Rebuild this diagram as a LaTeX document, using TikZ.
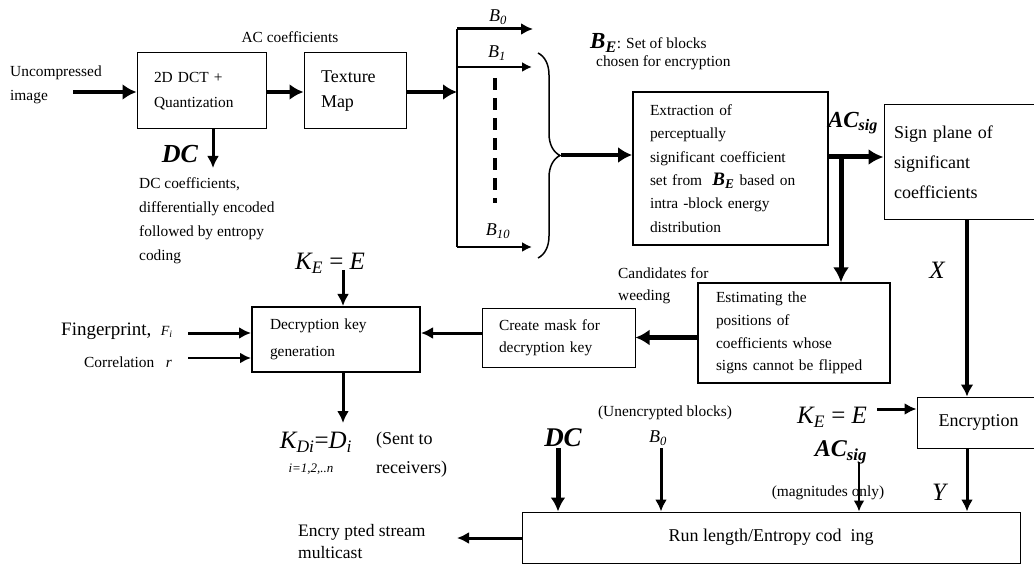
\documentclass[tikz,border=0pt]{standalone}
\usepackage{fontspec}
\setmainfont{Liberation Serif}
\usetikzlibrary{arrows.meta,decorations.pathreplacing}

\newcommand{\fs}[2]{\fontsize{#1}{#2}\selectfont}
\newcommand{\bE}{{\fontsize{19}{23}\selectfont\bfseries\itshape B\textsubscript{E}}}
\newcommand{\acsig}{\bfseries\itshape AC\textsubscript{sig}}
\newcommand{\keqe}{{\itshape K\textsubscript{E}}\ =\ {\itshape E}}

\tikzset{
	blk/.style={draw, line width=1pt, align=left, inner ysep=0pt},
	lbl/.style={inner sep=0pt, align=left},
	fat/.style={line width=4.5pt, -{Latex[length=14pt,width=16pt]}},
	mid/.style={line width=3pt, -{Latex[length=12pt,width=12pt]}},
	slim/.style={line width=2pt, -{Latex[length=10pt,width=10pt]}},
}

\begin{document}
\begin{tikzpicture}[x=1pt, y=-1pt, font=\fs{15.4}{19}]
				\useasboundingbox (0,0) rectangle (1034,564);
				%-- boxes
				\node[blk, minimum height=76pt, text width=95pt, inner xsep=17pt, font=\fs{15.4}{25}] (dct) at (201.5,91) {2D DCT +\\Quantization};
				\node[blk, minimum height=76pt, text width=68pt, inner xsep=17pt, font=\fs{18}{25}] (tex) at (355,91) {Texture\\Map};
				\node[blk, line width=1.8pt, minimum height=153pt, text width=161pt, inner xsep=17pt, font=\fs{15.4}{23.3}] (ext) at (730.5,168.5) {Extraction of\\perceptually\\significant coefficient\\set from \ \bE{} based on\\intra -block energy\\distribution};
				\node[blk, minimum height=115pt, text width=140pt, inner xsep=10pt, font=\fs{18}{30}] (sign) at (964,162.5) {Sign plane of\\significant\\coefficients};
				\node[blk, line width=1.3pt, minimum height=100pt, text width=156pt, inner xsep=18pt, font=\fs{15.4}{22.7}] (est) at (794,333) {Estimating the\\positions of\\coefficients whose\\signs cannot be flipped};
				\node[blk, minimum height=59pt, text width=119pt, inner xsep=17pt, font=\fs{15.4}{22}] (mask) at (558.5,337.5) {Create mask for\\decryption key};
				\node[blk, line width=2pt, minimum height=65pt, text width=132pt, inner xsep=18pt, font=\fs{15.4}{27}] (dec) at (336,339.5) {Decryption key\\generation};
				\node[blk, align=center, minimum height=51pt, minimum width=123pt, font=\fs{18}{22}] (enc) at (978.5,422.5) {Encryption};
				\node[blk, align=center, minimum height=51pt, minimum width=498pt, font=\fs{18}{22}] (run) at (771,537.5) {Run length/Entropy cod\ \ ing};
				%-- labels
				\node[lbl, anchor=west, font=\fs{15.4}{24}] (unc) at (10,85) {Uncompressed\\image};
				\node[lbl] (acc) at (290,37) {AC coefficients};
				\node[lbl, font=\fs{26}{30}\bfseries\itshape] (dcl) at (180,154) {DC};
				\node[lbl, anchor=west, font=\fs{15.4}{24}] (dcc) at (139,221) {DC coefficients,\\differentially encoded\\followed by entropy\\coding};
				\node[lbl, font=\fs{18}{20}\itshape] (bz) at (498,17) {B\textsubscript{0}};
				\node[lbl, font=\fs{18}{20}\itshape] (bo) at (497,53) {B\textsubscript{1}};
				\node[lbl, font=\fs{18}{20}\itshape] (bt) at (498,231) {B\textsubscript{10}};
				\node[lbl, anchor=west] (be1) at (590,43) {{\fs{23}{26}\bfseries\itshape B\textsubscript{E}}: Set of blocks};
				\node[lbl, anchor=west] (be2) at (596,63) {chosen for encryption};
				\node[lbl, font=\fs{23}{26}] (acl) at (853,123) {\acsig};
				\node[lbl, font=\fs{25}{28}\itshape] (xl) at (937,270) {X};
				\node[lbl, anchor=west, font=\fs{15.4}{22}] (cand) at (618,286) {Candidates for\\weeding};
				\node[lbl, font=\fs{25}{28}] (ke1) at (330,263) {\keqe};
				\node[lbl, anchor=west, font=\fs{19}{22}] (fp) at (61,331) {Fingerprint,\ \ {\fs{14}{16}\itshape F\textsubscript{i}}};
				\node[lbl, anchor=west] (cor) at (84,362) {Correlation\ \ \ {\itshape r}};
				\node[lbl, font=\fs{25}{28}] (kd) at (316,442) {{\itshape K\textsubscript{Di}}={\itshape D\textsubscript{i}}};
				\node[lbl, font=\fs{13}{15}\itshape] (ix) at (311,469) {i=1,2,..n};
				\node[lbl, anchor=west, font=\fs{18}{29}] (sent) at (376,455) {(Sent to\\receivers)};
				\node[lbl, anchor=west, font=\fs{17.5}{22}] (encs) at (298,542) {Encry pted stream\\multicast};
				\node[lbl, font=\fs{27}{30}\bfseries\itshape] (dcb) at (563,438) {DC};
				\node[lbl] (unenc) at (665,413) {(Unencrypted blocks)};
				\node[lbl, font=\fs{18}{20}\itshape] (bzb) at (658,438) {B\textsubscript{0}};
				\node[lbl, font=\fs{25}{28}] (ke2) at (832,417) {\keqe};
				\node[lbl, font=\fs{24}{28}] (acb) at (841,452) {\acsig};
				\node[lbl] (mag) at (828,493) {(magnitudes only)};
				\node[lbl, font=\fs{25}{28}\itshape] (yl) at (939,492) {Y};
				%-- free ends
				\coordinate (uncIn) at (73,92);
				\coordinate (trunk) at (457,92);
				\coordinate (trTop) at (457,29);
				\coordinate (trMid) at (457,67);
				\coordinate (trBot) at (457,247);
				\coordinate (bzEnd) at (533,29);
				\coordinate (boEnd) at (532,67);
				\coordinate (btEnd) at (532,247);
				\coordinate (dotTop) at (495,78);
				\coordinate (dotBot) at (495,203);
				\coordinate (brTop) at (538,53);
				\coordinate (brBot) at (538,258);
				\coordinate (brTip) at (561,155);
				\coordinate (dcx) at (213,0);
				\coordinate (dcEnd) at (213,168);
				\coordinate (acRow) at (841,157);
				\coordinate (mkRow) at (0,333);
				\coordinate (keA) at (343,270);
				\coordinate (fpA) at (188,333);
				\coordinate (coA) at (188,358);
				\coordinate (kdA) at (343,423);
				\coordinate (rx) at (967,0);
				\coordinate (keB) at (877,409);
				\coordinate (acB) at (859,462);
				\coordinate (bzB) at (661,448);
				\coordinate (dcB) at (558,448);
				\coordinate (outB) at (457,538);
				%-- top row
				\draw[fat] (uncIn) -- (dct.west |- uncIn);
				\draw[fat] (dct.east |- uncIn) -- (tex.west |- uncIn);
				\draw[mid] (dct.south -| dcx) -- (dcEnd);
				\draw[fat] (tex.east |- trunk) -- (trunk);
				\draw[line width=1.5pt] (trTop) -- (trBot);
				\draw[mid] (trTop) -- (bzEnd);
				\draw[slim] (trMid) -- (boEnd);
				\draw[slim] (trBot) -- (btEnd);
				\draw[line width=4pt, dash pattern=on 12pt off 8pt] (dotTop) -- (dotBot);
				\draw[line width=1.5pt, decorate, decoration={brace, amplitude=22pt}] (brTop) -- (brBot);
				\draw[fat] (brTip) -- (ext.west |- brTip);
				\draw[line width=5pt, -{Latex[length=15pt,width=16pt]}] (ext.east |- acRow) -- (sign.west |- acRow);
				\draw[line width=5pt, -{Latex[length=15pt,width=16pt]}] (acRow) -- (acRow |- est.north);
				%-- key path
				\draw[fat] (est.west |- mask.east) -- (mask.east);
				\draw[mid] (mask.west |- mkRow) -- (dec.east |- mkRow);
				\draw[mid] (keA) -- (keA |- dec.north);
				\draw[mid] (fpA) -- (dec.west |- fpA);
				\draw[line width=2.5pt, -{Latex[length=11pt,width=11pt]}] (coA) -- (dec.west |- coA);
				\draw[mid] (dec.south -| kdA) -- (kdA);
				%-- encryption and coding
				\draw[line width=3.5pt, -{Latex[length=12pt,width=13pt]}] (sign.south -| rx) -- (enc.north -| rx);
				\draw[mid] (keB) -- (enc.west |- keB);
				\draw[mid] (enc.south -| rx) -- (run.north -| rx);
				\draw[line width=2.5pt, -{Latex[length=11pt,width=11pt]}] (acB) -- (acB |- run.north);
				\draw[mid] (bzB) -- (bzB |- run.north);
				\draw[line width=5pt, -{Latex[length=14pt,width=15pt]}] (dcB) -- (dcB |- run.north);
				\draw[mid] (run.west |- outB) -- (outB);
			\end{tikzpicture}
\end{document}
